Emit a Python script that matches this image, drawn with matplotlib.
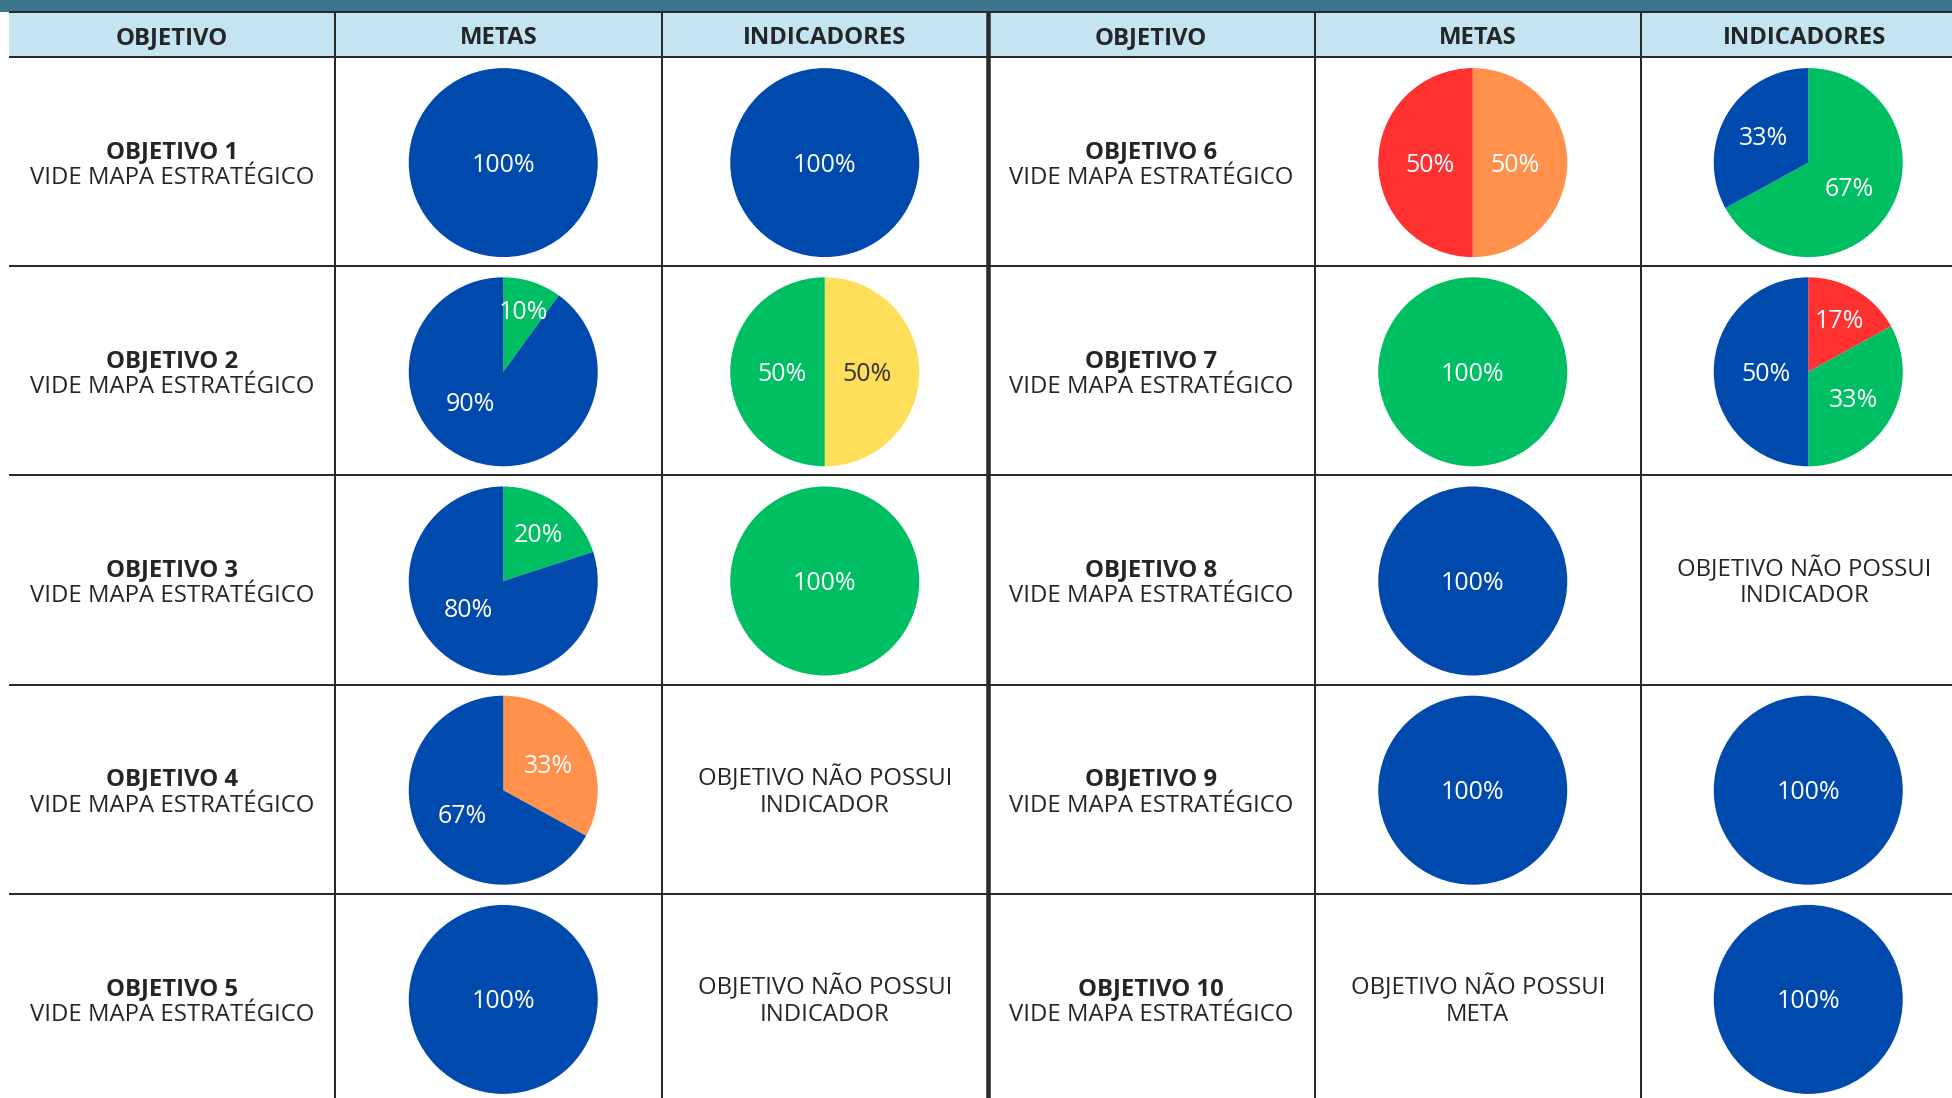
import matplotlib
matplotlib.use("Agg")
import matplotlib.pyplot as plt
import numpy as np

plt.rcParams['font.family'] = ['Open Sans', 'DejaVu Sans']

# ---------------- data ----------------
BLUE = "#004AAD"
GREEN = "#00BF63"
YELLOW = "#FFDE59"
ORANGE = "#FF914D"
RED = "#FF3131"

headers = ["OBJETIVO", "METAS", "INDICADORES", "OBJETIVO", "METAS", "INDICADORES"]
objetivos = ["OBJETIVO 1", "OBJETIVO 2", "OBJETIVO 3", "OBJETIVO 4", "OBJETIVO 5",
             "OBJETIVO 6", "OBJETIVO 7", "OBJETIVO 8", "OBJETIVO 9", "OBJETIVO 10"]
subtitle = "VIDE MAPA ESTRATÉGICO"

metas_values = [[100], [10, 90], [20, 80], [33, 67], [100],
                [50, 50], [100], [100], [100], None]
metas_colors = [[BLUE], [GREEN, BLUE], [GREEN, BLUE], [ORANGE, BLUE], [BLUE],
                [ORANGE, RED], [GREEN], [BLUE], [BLUE], None]
metas_empty = "OBJETIVO NÃO POSSUI\nMETA"

ind_values = [[100], [50, 50], [100], None, None,
              [67, 33], [17, 33, 50], None, [100], [100]]
ind_colors = [[BLUE], [YELLOW, GREEN], [GREEN], None, None,
              [GREEN, BLUE], [RED, GREEN, BLUE], None, [BLUE], [BLUE]]
ind_empty = "OBJETIVO NÃO POSSUI\nINDICADOR"

# ---------------- layout (pixels) ----------------
W, H = 1952, 1098
X0 = 8.5
CW = 326.5
TITLE_B = 12
HEAD_B = 57
RH = 209.2
R = 94.5
TXT = "#252525"
LINE = "#2a2a2a"
PX = 72 / 100.0  # points per pixel
FS = 17.2
FS_PIE = 18
PIE_DX = {1: 5, 2: 0, 4: -5, 5: 4}


def Y(p):
    return H - p


fig = plt.figure(figsize=(W / 100, H / 100), dpi=100)
ax = fig.add_axes([0, 0, 1, 1])

# title bar and header
ax.fill_between([0, W], Y(0), Y(TITLE_B), color="#3C768C", lw=0, zorder=1)
ax.fill_between([X0, W], Y(TITLE_B), Y(HEAD_B), color="#C4E4F1", lw=0, zorder=1)
for i, h in enumerate(headers):
    ax.text(X0 + CW * (i + 0.5), Y(44.5), h, ha="center", va="baseline",
            fontsize=FS, fontweight="bold", color=TXT, zorder=5)


def pie_cell(cx, cy, vals, cols):
    wedges, _ = ax.pie(vals, colors=cols, center=(cx, Y(cy)), radius=R, startangle=90,
                       counterclock=False, frame=True, wedgeprops=dict(linewidth=0))
    total = float(sum(vals))
    for w, v, c in zip(wedges, vals, cols):
        w.set_zorder(3)
        f = v / total
        mid = (w.theta1 + w.theta2) / 2
        if f >= 0.999:
            d = 0.0
        elif f <= 0.5:
            d = 0.75 - 0.6 * f
        elif f < 0.7:
            d = 0.5
        else:
            d = 0.47
            mid -= (f - 0.67) * 125
        mid = np.deg2rad(mid)
        tx = cx + d * R * np.cos(mid)
        ty = Y(cy) + d * R * np.sin(mid)
        tc = "#333333" if c == YELLOW else "white"
        ax.text(tx, ty - 0.357 * FS_PIE / PX, f"{v}%", ha="center", va="baseline",
                fontsize=FS_PIE, color=tc, zorder=6)


def two_lines(cx, cy, l1, l2, bold1):
    ax.text(cx, Y(cy - 3.7), l1, ha="center", va="baseline", fontsize=FS,
            fontweight="bold" if bold1 else "normal", color=TXT, zorder=5)
    ax.text(cx, Y(cy + 22.5), l2, ha="center", va="baseline", fontsize=FS,
            color=TXT, zorder=5)


for k in range(10):
    side = k // 5
    row = k % 5
    cy = HEAD_B + RH * (row + 0.5)
    cm = 3 * side + 1
    ci = 3 * side + 2
    c_obj = X0 + CW * (3 * side + 0.5)
    c_met = X0 + CW * (cm + 0.5)
    c_ind = X0 + CW * (ci + 0.5)
    two_lines(c_obj, cy, objetivos[k], subtitle, True)
    if metas_values[k] is not None:
        pie_cell(c_met + PIE_DX[cm], cy + 1, metas_values[k], metas_colors[k])
    else:
        l1, l2 = metas_empty.split("\n")
        two_lines(c_met, cy, l1, l2, False)
    if ind_values[k] is not None:
        pie_cell(c_ind + PIE_DX[ci], cy + 1, ind_values[k], ind_colors[k])
    else:
        l1, l2 = ind_empty.split("\n")
        two_lines(c_ind, cy, l1, l2, False)

# grid lines
lw = 2 * PX
ax.plot([X0, W], [Y(TITLE_B), Y(TITLE_B)], color=LINE, lw=lw, zorder=4, solid_capstyle="butt")
for r in range(6):
    yy = HEAD_B + RH * r
    ax.plot([X0, W], [Y(yy), Y(yy)], color=LINE, lw=lw, zorder=4, solid_capstyle="butt")
for c in range(1, 6):
    xx = X0 + CW * c
    ax.plot([xx, xx], [Y(TITLE_B), 0], color=LINE, lw=(4.5 * PX if c == 3 else lw),
            zorder=4, solid_capstyle="butt")

ax.set_xlim(0, W)
ax.set_ylim(0, H)
ax.set_aspect("auto")
ax.axis("off")
fig.savefig("out.png", dpi=100, facecolor="white")
